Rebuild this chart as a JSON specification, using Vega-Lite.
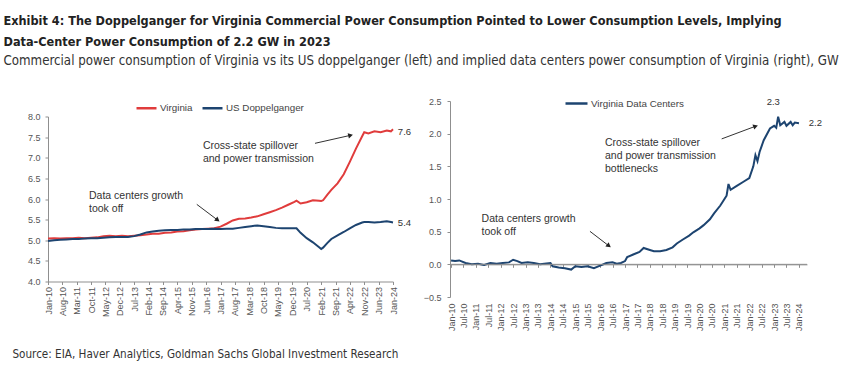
{
  "$schema": "https://vega.github.io/schema/vega-lite/v6.json",
  "background": "white",
  "padding": {"left": 3, "top": 15, "right": 0, "bottom": 0},
  "title": {
    "text": ["Exhibit 4: The Doppelganger for Virginia Commercial Power Consumption Pointed to Lower Consumption Levels, Implying", "Data-Center Power Consumption of 2.2 GW in 2023"],
    "subtitle": "Commercial power consumption of Virginia vs its US doppelganger (left) and implied data centers power consumption of Virginia (right), GW",
    "anchor": "start",
    "font": "DejaVu Sans Condensed",
    "fontSize": 12.6,
    "fontWeight": "bold",
    "color": "#222222",
    "lineHeight": 21,
    "subtitleFont": "DejaVu Sans Condensed",
    "subtitleFontSize": 13.2,
    "subtitleColor": "#333333",
    "subtitlePadding": 6,
    "offset": 24,
    "dx": -9
  },
  "datasets": {
    "left": [
      {"date": "2010/01/01", "Virginia": 5.04, "US Doppelganger": 4.98},
      {"date": "2010/04/01", "Virginia": 5.05, "US Doppelganger": 5.00},
      {"date": "2010/07/01", "Virginia": 5.04, "US Doppelganger": 5.01},
      {"date": "2010/10/01", "Virginia": 5.05, "US Doppelganger": 5.02},
      {"date": "2011/01/01", "Virginia": 5.05, "US Doppelganger": 5.03},
      {"date": "2011/04/01", "Virginia": 5.06, "US Doppelganger": 5.03},
      {"date": "2011/07/01", "Virginia": 5.05, "US Doppelganger": 5.04},
      {"date": "2011/10/01", "Virginia": 5.06, "US Doppelganger": 5.05},
      {"date": "2012/01/01", "Virginia": 5.07, "US Doppelganger": 5.05},
      {"date": "2012/04/01", "Virginia": 5.10, "US Doppelganger": 5.06},
      {"date": "2012/07/01", "Virginia": 5.11, "US Doppelganger": 5.07},
      {"date": "2012/10/01", "Virginia": 5.10, "US Doppelganger": 5.08},
      {"date": "2013/01/01", "Virginia": 5.11, "US Doppelganger": 5.08},
      {"date": "2013/04/01", "Virginia": 5.10, "US Doppelganger": 5.08},
      {"date": "2013/07/01", "Virginia": 5.11, "US Doppelganger": 5.10},
      {"date": "2013/10/01", "Virginia": 5.12, "US Doppelganger": 5.14},
      {"date": "2014/01/01", "Virginia": 5.14, "US Doppelganger": 5.19},
      {"date": "2014/04/01", "Virginia": 5.16, "US Doppelganger": 5.21},
      {"date": "2014/07/01", "Virginia": 5.16, "US Doppelganger": 5.23},
      {"date": "2014/10/01", "Virginia": 5.18, "US Doppelganger": 5.24},
      {"date": "2015/01/01", "Virginia": 5.19, "US Doppelganger": 5.25},
      {"date": "2015/04/01", "Virginia": 5.21, "US Doppelganger": 5.25},
      {"date": "2015/07/01", "Virginia": 5.22, "US Doppelganger": 5.26},
      {"date": "2015/10/01", "Virginia": 5.24, "US Doppelganger": 5.26},
      {"date": "2016/01/01", "Virginia": 5.26, "US Doppelganger": 5.27},
      {"date": "2016/04/01", "Virginia": 5.27, "US Doppelganger": 5.27},
      {"date": "2016/07/01", "Virginia": 5.28, "US Doppelganger": 5.27},
      {"date": "2016/10/01", "Virginia": 5.29, "US Doppelganger": 5.28},
      {"date": "2017/01/01", "Virginia": 5.33, "US Doppelganger": 5.27},
      {"date": "2017/04/01", "Virginia": 5.40, "US Doppelganger": 5.28},
      {"date": "2017/07/01", "Virginia": 5.48, "US Doppelganger": 5.28},
      {"date": "2017/10/01", "Virginia": 5.52, "US Doppelganger": 5.30},
      {"date": "2018/01/01", "Virginia": 5.53, "US Doppelganger": 5.32},
      {"date": "2018/04/01", "Virginia": 5.55, "US Doppelganger": 5.34},
      {"date": "2018/07/01", "Virginia": 5.58, "US Doppelganger": 5.36},
      {"date": "2018/10/01", "Virginia": 5.63, "US Doppelganger": 5.34},
      {"date": "2019/01/01", "Virginia": 5.68, "US Doppelganger": 5.32},
      {"date": "2019/04/01", "Virginia": 5.73, "US Doppelganger": 5.30},
      {"date": "2019/07/01", "Virginia": 5.79, "US Doppelganger": 5.29},
      {"date": "2019/10/01", "Virginia": 5.86, "US Doppelganger": 5.29},
      {"date": "2020/01/01", "Virginia": 5.93, "US Doppelganger": 5.29},
      {"date": "2020/02/01", "Virginia": 5.96, "US Doppelganger": 5.29},
      {"date": "2020/04/01", "Virginia": 5.89, "US Doppelganger": 5.18},
      {"date": "2020/07/01", "Virginia": 5.92, "US Doppelganger": 5.05},
      {"date": "2020/10/01", "Virginia": 5.97, "US Doppelganger": 4.95},
      {"date": "2021/01/01", "Virginia": 5.96, "US Doppelganger": 4.83},
      {"date": "2021/02/01", "Virginia": 5.95, "US Doppelganger": 4.79},
      {"date": "2021/03/01", "Virginia": 5.97, "US Doppelganger": 4.82},
      {"date": "2021/05/01", "Virginia": 6.10, "US Doppelganger": 4.93},
      {"date": "2021/07/01", "Virginia": 6.22, "US Doppelganger": 5.03},
      {"date": "2021/10/01", "Virginia": 6.38, "US Doppelganger": 5.12},
      {"date": "2022/01/01", "Virginia": 6.60, "US Doppelganger": 5.20},
      {"date": "2022/04/01", "Virginia": 6.90, "US Doppelganger": 5.29},
      {"date": "2022/07/01", "Virginia": 7.22, "US Doppelganger": 5.37},
      {"date": "2022/10/01", "Virginia": 7.52, "US Doppelganger": 5.43},
      {"date": "2022/11/01", "Virginia": 7.62, "US Doppelganger": 5.44},
      {"date": "2023/01/01", "Virginia": 7.59, "US Doppelganger": 5.44},
      {"date": "2023/04/01", "Virginia": 7.64, "US Doppelganger": 5.43},
      {"date": "2023/07/01", "Virginia": 7.62, "US Doppelganger": 5.44},
      {"date": "2023/10/01", "Virginia": 7.66, "US Doppelganger": 5.46},
      {"date": "2023/12/01", "Virginia": 7.64, "US Doppelganger": 5.44},
      {"date": "2024/01/01", "Virginia": 7.69, "US Doppelganger": 5.43}
    ],
    "right": [
      {"date": "2010/01/01", "value": 0.06},
      {"date": "2010/03/01", "value": 0.05},
      {"date": "2010/05/01", "value": 0.06},
      {"date": "2010/08/01", "value": 0.02},
      {"date": "2010/11/01", "value": 0.00},
      {"date": "2011/02/01", "value": 0.01},
      {"date": "2011/05/01", "value": -0.01},
      {"date": "2011/08/01", "value": 0.02},
      {"date": "2011/11/01", "value": 0.01},
      {"date": "2012/02/01", "value": 0.02},
      {"date": "2012/05/01", "value": 0.03},
      {"date": "2012/07/01", "value": 0.07},
      {"date": "2012/09/01", "value": 0.05},
      {"date": "2012/11/01", "value": 0.02},
      {"date": "2013/02/01", "value": 0.03},
      {"date": "2013/05/01", "value": 0.02},
      {"date": "2013/08/01", "value": 0.00},
      {"date": "2013/10/01", "value": 0.01},
      {"date": "2014/01/01", "value": 0.02},
      {"date": "2014/02/01", "value": -0.03},
      {"date": "2014/05/01", "value": -0.05},
      {"date": "2014/08/01", "value": -0.06},
      {"date": "2014/11/01", "value": -0.08},
      {"date": "2015/01/01", "value": -0.03},
      {"date": "2015/04/01", "value": -0.04},
      {"date": "2015/07/01", "value": -0.03},
      {"date": "2015/10/01", "value": -0.06},
      {"date": "2016/01/01", "value": -0.02},
      {"date": "2016/04/01", "value": 0.02},
      {"date": "2016/07/01", "value": 0.03},
      {"date": "2016/09/01", "value": 0.01},
      {"date": "2016/11/01", "value": 0.02},
      {"date": "2017/01/01", "value": 0.05},
      {"date": "2017/02/01", "value": 0.11},
      {"date": "2017/05/01", "value": 0.15},
      {"date": "2017/08/01", "value": 0.19},
      {"date": "2017/10/01", "value": 0.25},
      {"date": "2018/01/01", "value": 0.22},
      {"date": "2018/03/01", "value": 0.20},
      {"date": "2018/06/01", "value": 0.20},
      {"date": "2018/09/01", "value": 0.22},
      {"date": "2018/12/01", "value": 0.26},
      {"date": "2019/02/01", "value": 0.32},
      {"date": "2019/05/01", "value": 0.38},
      {"date": "2019/08/01", "value": 0.44},
      {"date": "2019/10/01", "value": 0.49},
      {"date": "2020/01/01", "value": 0.55},
      {"date": "2020/03/01", "value": 0.60},
      {"date": "2020/06/01", "value": 0.69},
      {"date": "2020/08/01", "value": 0.78},
      {"date": "2020/11/01", "value": 0.90},
      {"date": "2021/01/01", "value": 1.00},
      {"date": "2021/02/01", "value": 1.05},
      {"date": "2021/03/01", "value": 1.23},
      {"date": "2021/04/01", "value": 1.14},
      {"date": "2021/07/01", "value": 1.20},
      {"date": "2021/10/01", "value": 1.26},
      {"date": "2022/01/01", "value": 1.32},
      {"date": "2022/03/01", "value": 1.50},
      {"date": "2022/04/01", "value": 1.67},
      {"date": "2022/05/01", "value": 1.58},
      {"date": "2022/06/01", "value": 1.72},
      {"date": "2022/08/01", "value": 1.90},
      {"date": "2022/11/01", "value": 2.08},
      {"date": "2023/01/01", "value": 2.12},
      {"date": "2023/02/01", "value": 2.09},
      {"date": "2023/03/01", "value": 2.26},
      {"date": "2023/04/01", "value": 2.13},
      {"date": "2023/06/01", "value": 2.18},
      {"date": "2023/07/01", "value": 2.12},
      {"date": "2023/09/01", "value": 2.18},
      {"date": "2023/10/01", "value": 2.13},
      {"date": "2023/11/01", "value": 2.17},
      {"date": "2024/01/01", "value": 2.16}
    ]
  },
  "vconcat": [
    {
      "title": {
        "text": "Source: EIA, Haver Analytics, Goldman Sachs Global Investment Research",
        "orient": "bottom",
        "anchor": "start",
        "font": "DejaVu Sans Condensed",
        "fontSize": 11.6,
        "fontWeight": "normal",
        "color": "#333333",
        "offset": 18,
        "dx": -15
      },
      "spacing": 57,
      "bounds": "flush",
      "center": true,
      "resolve": {"scale": {"color": "independent"}, "legend": {"color": "independent"}},
      "hconcat": [
        {
          "width": 345,
          "height": 165,
          "layer": [
            {
              "data": {"name": "left"},
              "transform": [{"fold": ["Virginia", "US Doppelganger"], "as": ["series", "value"]}],
              "mark": {"type": "line", "strokeWidth": 2},
              "encoding": {
                "x": {
                  "field": "date", "type": "temporal",
                  "scale": {"domain": [{"year": 2010, "month": 1, "date": 1}, {"year": 2024, "month": 1, "date": 1}], "nice": false},
                  "axis": {
                    "title": null, "format": "%b-%y", "labelAngle": -90, "labelOverlap": false, "labelPadding": 2, "tickCount": 100,
                    "values": [
                      {"year": 2010, "month": 1, "date": 1}, {"year": 2010, "month": 8, "date": 1},
                      {"year": 2011, "month": 3, "date": 1}, {"year": 2011, "month": 10, "date": 1},
                      {"year": 2012, "month": 5, "date": 1}, {"year": 2012, "month": 12, "date": 1},
                      {"year": 2013, "month": 7, "date": 1}, {"year": 2014, "month": 2, "date": 1},
                      {"year": 2014, "month": 9, "date": 1}, {"year": 2015, "month": 4, "date": 1},
                      {"year": 2015, "month": 11, "date": 1}, {"year": 2016, "month": 6, "date": 1},
                      {"year": 2017, "month": 1, "date": 1}, {"year": 2017, "month": 8, "date": 1},
                      {"year": 2018, "month": 3, "date": 1}, {"year": 2018, "month": 10, "date": 1},
                      {"year": 2019, "month": 5, "date": 1}, {"year": 2019, "month": 12, "date": 1},
                      {"year": 2020, "month": 7, "date": 1}, {"year": 2021, "month": 2, "date": 1},
                      {"year": 2021, "month": 9, "date": 1}, {"year": 2022, "month": 4, "date": 1},
                      {"year": 2022, "month": 11, "date": 1}, {"year": 2023, "month": 6, "date": 1},
                      {"year": 2024, "month": 1, "date": 1}
                    ]
                  }
                },
                "y": {
                  "field": "value", "type": "quantitative",
                  "scale": {"domain": [4, 8], "nice": false, "zero": false},
                  "axis": {"title": null, "values": [4, 4.5, 5, 5.5, 6, 6.5, 7, 7.5, 8], "format": ".1f", "labelPadding": 5, "tickCount": 100, "labelOverlap": false}
                },
                "color": {
                  "field": "series", "type": "nominal",
                  "scale": {"domain": ["Virginia", "US Doppelganger"], "range": ["#e03c3c", "#1d4470"]},
                  "legend": {
                    "title": null, "orient": "none", "legendX": 87, "legendY": -20, "direction": "horizontal",
                    "symbolType": "stroke", "symbolSize": 400, "symbolStrokeWidth": 2.5, "labelOffset": 2, "columnPadding": 4
                  }
                }
              }
            },
            {
              "data": {"values": [
                {"date": "2011/09/01", "value": 6.19, "label": "Data centers growth\ntook off"},
                {"date": "2016/04/15", "value": 7.41, "label": "Cross-state spillover\nand power transmission"}
              ]},
              "mark": {"type": "text", "align": "left", "baseline": "top", "lineBreak": "\n", "lineHeight": 13, "fontSize": 10.5, "font": "Liberation Sans", "color": "#333333"},
              "encoding": {
                "x": {"field": "date", "type": "temporal", "axis": {"title": null}},
                "y": {"field": "value", "type": "quantitative", "axis": {"title": null}},
                "text": {"field": "label"}
              }
            },
            {
              "data": {"values": [
                {"date": "2024/03/13", "value": 7.62, "label": "7.6"},
                {"date": "2024/03/13", "value": 5.41, "label": "5.4"}
              ]},
              "mark": {"type": "text", "align": "left", "baseline": "middle", "fontSize": 9.5, "font": "Liberation Sans", "color": "#333333"},
              "encoding": {
                "x": {"field": "date", "type": "temporal", "axis": {"title": null}},
                "y": {"field": "value", "type": "quantitative", "axis": {"title": null}},
                "text": {"field": "label"}
              }
            },
            {
              "data": {"values": [
                {"from": "2016/01/15", "fromValue": 5.87, "to": "2016/11/10", "toValue": 5.50},
                {"from": "2020/11/01", "fromValue": 7.35, "to": "2022/04/01", "toValue": 7.54}
              ]},
              "mark": {"type": "rule", "color": "#333333", "strokeWidth": 1},
              "encoding": {
                "x": {"field": "from", "type": "temporal", "axis": {"title": null}},
                "y": {"field": "fromValue", "type": "quantitative", "axis": {"title": null}},
                "x2": {"field": "to"},
                "y2": {"field": "toValue"}
              }
            },
            {
              "data": {"values": [{"to": "2016/11/10", "toValue": 5.50}]},
              "mark": {"type": "point", "shape": "triangle", "angle": 127, "size": 30, "filled": true, "opacity": 1, "color": "#222222"},
              "encoding": {
                "x": {"field": "to", "type": "temporal", "axis": {"title": null}},
                "y": {"field": "toValue", "type": "quantitative", "axis": {"title": null}}
              }
            },
            {
              "data": {"values": [{"to": "2022/04/01", "toValue": 7.54}]},
              "mark": {"type": "point", "shape": "triangle", "angle": 77, "size": 30, "filled": true, "opacity": 1, "color": "#222222"},
              "encoding": {
                "x": {"field": "to", "type": "temporal", "axis": {"title": null}},
                "y": {"field": "toValue", "type": "quantitative", "axis": {"title": null}}
              }
            }
          ]
        },
        {
          "width": 357,
          "height": 196,
          "resolve": {"axis": {"x": "independent"}},
          "layer": [
            {
              "data": {"name": "right"},
              "mark": {"type": "line", "strokeWidth": 2},
              "encoding": {
                "x": {
                  "field": "date", "type": "temporal",
                  "scale": {"domain": [{"year": 2009, "month": 12, "date": 16}, {"year": 2024, "month": 4, "date": 28}], "nice": false},
                  "axis": {
                    "title": null, "orient": "bottom", "domain": false, "ticks": false, "labelAngle": -90, "labelOverlap": false,
                    "labelPadding": 6, "format": "%b-%y", "tickCount": 100,
                    "values": [
                      {"year": 2010, "month": 1, "date": 1}, {"year": 2010, "month": 7, "date": 1},
                      {"year": 2011, "month": 1, "date": 1}, {"year": 2011, "month": 7, "date": 1},
                      {"year": 2012, "month": 1, "date": 1}, {"year": 2012, "month": 7, "date": 1},
                      {"year": 2013, "month": 1, "date": 1}, {"year": 2013, "month": 7, "date": 1},
                      {"year": 2014, "month": 1, "date": 1}, {"year": 2014, "month": 7, "date": 1},
                      {"year": 2015, "month": 1, "date": 1}, {"year": 2015, "month": 7, "date": 1},
                      {"year": 2016, "month": 1, "date": 1}, {"year": 2016, "month": 7, "date": 1},
                      {"year": 2017, "month": 1, "date": 1}, {"year": 2017, "month": 7, "date": 1},
                      {"year": 2018, "month": 1, "date": 1}, {"year": 2018, "month": 7, "date": 1},
                      {"year": 2019, "month": 1, "date": 1}, {"year": 2019, "month": 7, "date": 1},
                      {"year": 2020, "month": 1, "date": 1}, {"year": 2020, "month": 7, "date": 1},
                      {"year": 2021, "month": 1, "date": 1}, {"year": 2021, "month": 7, "date": 1},
                      {"year": 2022, "month": 1, "date": 1}, {"year": 2022, "month": 7, "date": 1},
                      {"year": 2023, "month": 1, "date": 1}, {"year": 2023, "month": 7, "date": 1},
                      {"year": 2024, "month": 1, "date": 1}
                    ]
                  }
                },
                "y": {
                  "field": "value", "type": "quantitative",
                  "scale": {"domain": [-0.5, 2.5], "nice": false, "zero": false},
                  "axis": {"title": null, "values": [-0.5, 0, 0.5, 1, 1.5, 2, 2.5], "format": ".1f", "labelPadding": 6, "tickCount": 100, "labelOverlap": false}
                },
                "color": {
                  "datum": "Virginia Data Centers",
                  "scale": {"domain": ["Virginia Data Centers"], "range": ["#1d4470"]},
                  "legend": {
                    "title": null, "orient": "none", "legendX": 114, "legendY": -10, "direction": "horizontal",
                    "symbolType": "stroke", "symbolSize": 484, "symbolStrokeWidth": 2.5, "labelOffset": 2
                  }
                }
              }
            },
            {
              "data": {"values": [{"level": 0}]},
              "mark": {"type": "rule", "color": "#8f8f8f", "strokeWidth": 1},
              "encoding": {"y": {"field": "level", "type": "quantitative", "axis": {"title": null}}}
            },
            {
              "data": {"values": [
                {"date": "2011/03/25", "value": 0.77, "label": "Data centers growth\ntook off"},
                {"date": "2016/03/12", "value": 1.93, "label": "Cross-state spillover\nand power transmission\nbottlenecks"}
              ]},
              "mark": {"type": "text", "align": "left", "baseline": "top", "lineBreak": "\n", "lineHeight": 13, "fontSize": 10.5, "font": "Liberation Sans", "color": "#333333"},
              "encoding": {
                "x": {
                  "field": "date", "type": "temporal",
                  "axis": {
                    "title": null, "orient": "bottom", "offset": -32.67, "labels": false, "domain": true, "ticks": true, "tickSize": 3, "tickCount": 100,
                    "values": [
                      {"year": 2010, "month": 1, "date": 1}, {"year": 2010, "month": 7, "date": 1},
                      {"year": 2011, "month": 1, "date": 1}, {"year": 2011, "month": 7, "date": 1},
                      {"year": 2012, "month": 1, "date": 1}, {"year": 2012, "month": 7, "date": 1},
                      {"year": 2013, "month": 1, "date": 1}, {"year": 2013, "month": 7, "date": 1},
                      {"year": 2014, "month": 1, "date": 1}, {"year": 2014, "month": 7, "date": 1},
                      {"year": 2015, "month": 1, "date": 1}, {"year": 2015, "month": 7, "date": 1},
                      {"year": 2016, "month": 1, "date": 1}, {"year": 2016, "month": 7, "date": 1},
                      {"year": 2017, "month": 1, "date": 1}, {"year": 2017, "month": 7, "date": 1},
                      {"year": 2018, "month": 1, "date": 1}, {"year": 2018, "month": 7, "date": 1},
                      {"year": 2019, "month": 1, "date": 1}, {"year": 2019, "month": 7, "date": 1},
                      {"year": 2020, "month": 1, "date": 1}, {"year": 2020, "month": 7, "date": 1},
                      {"year": 2021, "month": 1, "date": 1}, {"year": 2021, "month": 7, "date": 1},
                      {"year": 2022, "month": 1, "date": 1}, {"year": 2022, "month": 7, "date": 1},
                      {"year": 2023, "month": 1, "date": 1}, {"year": 2023, "month": 7, "date": 1},
                      {"year": 2024, "month": 1, "date": 1}
                    ]
                  }
                },
                "y": {"field": "value", "type": "quantitative", "axis": {"title": null}},
                "text": {"field": "label"}
              }
            },
            {
              "data": {"values": [
                {"date": "2022/09/13", "value": 2.485, "label": "2.3"},
                {"date": "2024/05/25", "value": 2.17, "label": "2.2"}
              ]},
              "mark": {"type": "text", "align": "left", "baseline": "middle", "fontSize": 9.5, "font": "Liberation Sans", "color": "#333333"},
              "encoding": {
                "x": {"field": "date", "type": "temporal", "axis": null},
                "y": {"field": "value", "type": "quantitative", "axis": {"title": null}},
                "text": {"field": "label"}
              }
            },
            {
              "data": {"values": [
                {"from": "2015/08/04", "fromValue": 0.505, "to": "2016/04/29", "toValue": 0.29},
                {"from": "2020/11/21", "fromValue": 1.92, "to": "2022/03/24", "toValue": 2.11}
              ]},
              "mark": {"type": "rule", "color": "#333333", "strokeWidth": 1},
              "encoding": {
                "x": {"field": "from", "type": "temporal", "axis": null},
                "y": {"field": "fromValue", "type": "quantitative", "axis": {"title": null}},
                "x2": {"field": "to"},
                "y2": {"field": "toValue"}
              }
            },
            {
              "data": {"values": [{"to": "2016/04/29", "toValue": 0.29}]},
              "mark": {"type": "point", "shape": "triangle", "angle": 127, "size": 30, "filled": true, "opacity": 1, "color": "#222222"},
              "encoding": {
                "x": {"field": "to", "type": "temporal", "axis": null},
                "y": {"field": "toValue", "type": "quantitative", "axis": {"title": null}}
              }
            },
            {
              "data": {"values": [{"to": "2022/03/24", "toValue": 2.11}]},
              "mark": {"type": "point", "shape": "triangle", "angle": 70, "size": 30, "filled": true, "opacity": 1, "color": "#222222"},
              "encoding": {
                "x": {"field": "to", "type": "temporal", "axis": null},
                "y": {"field": "toValue", "type": "quantitative", "axis": {"title": null}}
              }
            }
          ]
        }
      ]
    }
  ],
  "config": {
    "view": {"stroke": null},
    "axis": {
      "grid": false, "domainColor": "#8f8f8f", "tickColor": "#8f8f8f", "labelColor": "#555555",
      "labelFont": "Liberation Sans", "labelFontSize": 9, "tickSize": 3, "labelPadding": 3
    },
    "legend": {"labelFont": "Liberation Sans", "labelFontSize": 9.8, "labelColor": "#444444"}
  }
}
